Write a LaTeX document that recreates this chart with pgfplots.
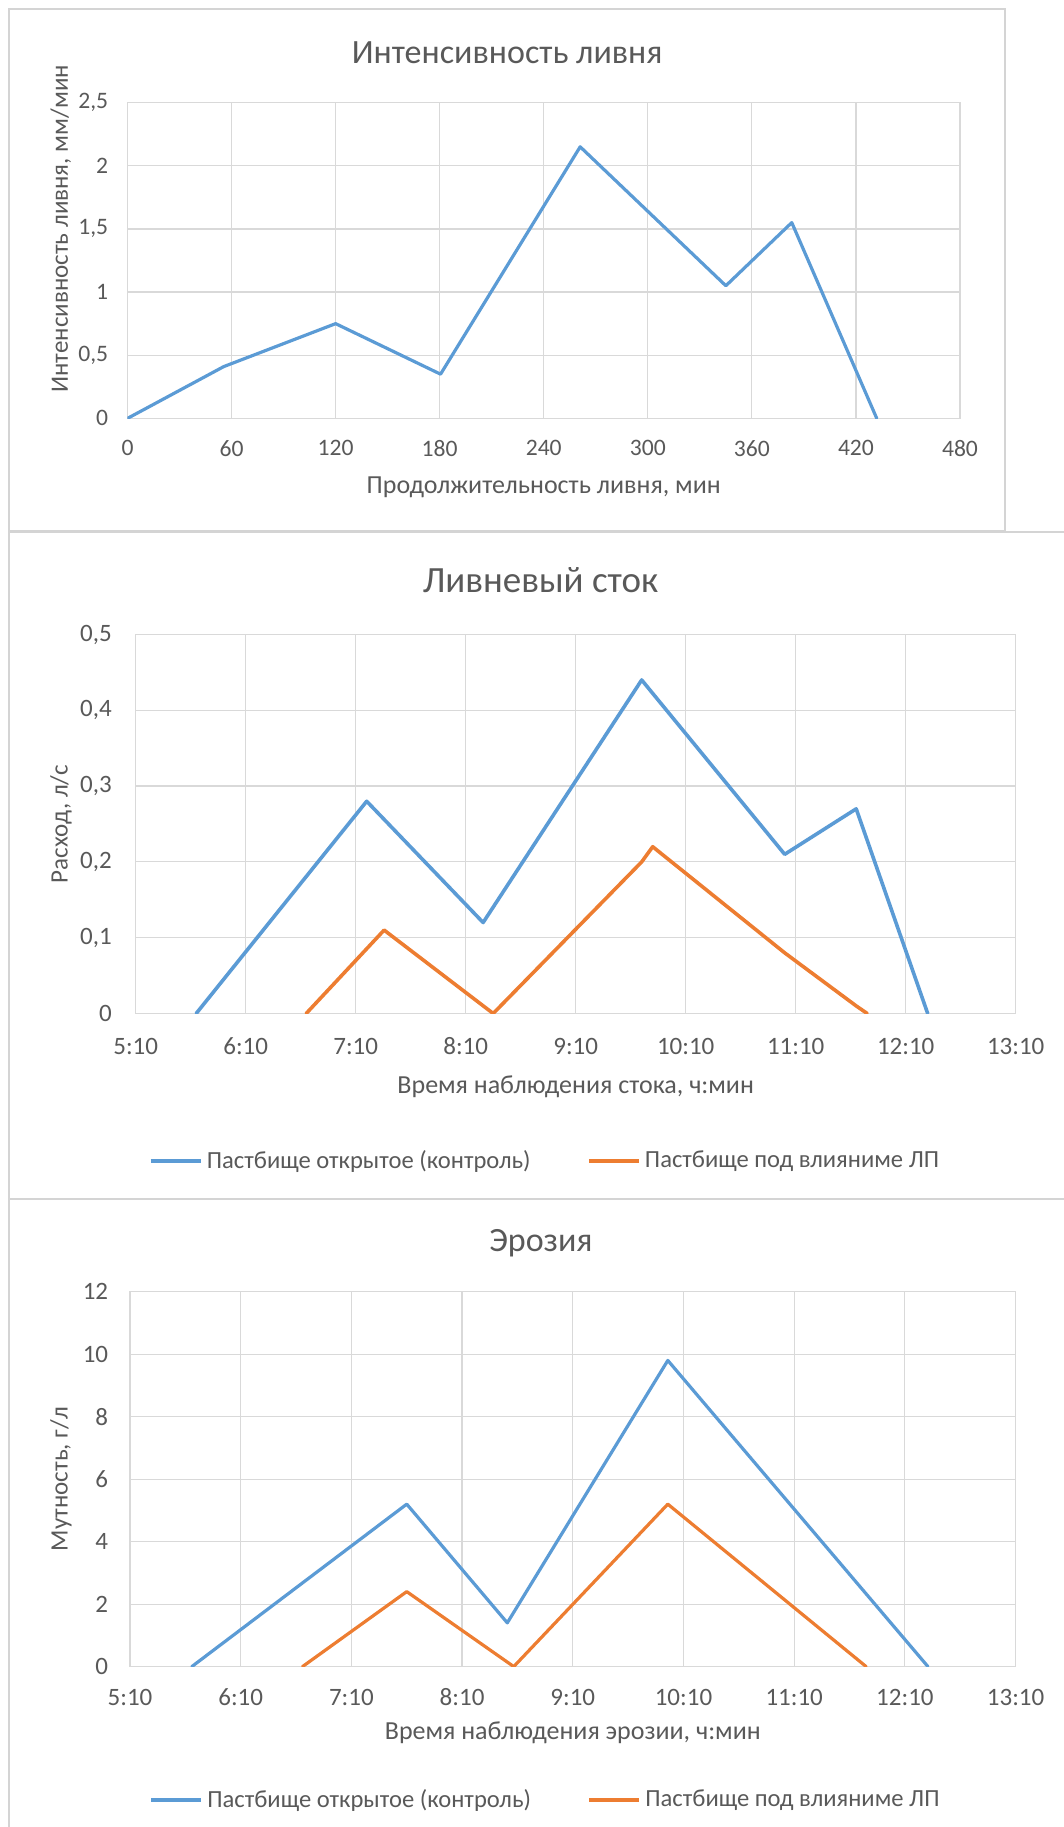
\documentclass[border=0pt]{standalone}
\usepackage{pgfplots}
\pgfplotsset{compat=1.18}
\usepackage{fontspec}
\setmainfont{Carlito}
\definecolor{txt}{HTML}{595959}
\definecolor{grd}{HTML}{D9D9D9}
\definecolor{bl}{HTML}{5B9BD5}
\definecolor{orng}{HTML}{ED7D31}
\definecolor{frm}{HTML}{D4D4D4}
\newcommand\PX[2]{({(#1)*0.5pt},{(1827-(#2))*0.5pt})}
\pgfplotsset{
 excel/.style={
  scale only axis, anchor=south west,
  axis line style={draw=grd, line width=0.6pt},
  grid=major, major grid style={draw=grd, line width=0.6pt},
  major tick length=0pt,
  tick label style={text=txt, font=\fontsize{12.5}{14}\selectfont, inner sep=0pt},
  yticklabel style={anchor=east},
  xticklabel style={anchor=center},
  /pgf/number format/assume math mode=true,
  /pgf/number format/use comma,
  title style={text=txt, anchor=center, yshift=-6pt},
  xlabel style={text=txt, anchor=center, font=\fontsize{13}{15}\selectfont},
  ylabel style={text=txt, anchor=center, font=\fontsize{12.5}{15}\selectfont},
  legend style={draw=none, fill=none, text=txt, font=\fontsize{12.3}{14}\selectfont, legend columns=2,
    /tikz/every even column/.append style={column sep=26pt}, anchor=center, inner sep=0pt},
  legend image code/.code={\draw[#1, line width=2.2pt, line cap=butt] (0pt,0pt) -- (25pt,0pt);},
  every axis plot/.append style={line join=round, line cap=round},
 }
}
\begin{document}
\begin{tikzpicture}
\useasboundingbox (0,0) rectangle (532pt,913.5pt);
% panel frames
\draw[frm, line width=1pt] \PX{9}{9} rectangle \PX{1005}{531};
\draw[frm, line width=1pt] \PX{9}{532} -- \PX{1064}{532};
\draw[frm, line width=1pt] \PX{9}{532} -- \PX{9}{1827};
\draw[frm, line width=1pt] \PX{9}{1199} -- \PX{1064}{1199};

% Chart 1
\begin{axis}[excel,
  at={(63.75pt,704.3pt)}, width=416.25pt, height=157.9pt,
  xmin=0, xmax=480, ymin=0, ymax=2.5,
  xtick={0,60,...,480}, ytick={0,0.5,...,2.5},
  tick label style={font=\fontsize{11.8}{13}\selectfont},
  yticklabel style={xshift=-9.5pt},
  xticklabel style={yshift=-15pt},
  title={Интенсивность ливня},
  title style={at={(axis description cs:0.456,1.157)}, font=\fontsize{17}{20}\selectfont},
  xlabel={Продолжительность ливня, мин},
  xlabel style={at={(axis description cs:0.5,-0.217)}},
  ylabel={Интенсивность ливня, мм/мин},
  ylabel style={at={(axis description cs:-0.08,0.6)}},
]
\addplot[bl, line width=1.6pt] coordinates {
(0,0) (55.5,0.41) (120,0.75) (180.5,0.35) (261,2.15) (345,1.05) (383,1.55) (432,0)};
\end{axis}

% Chart 2
\begin{axis}[excel,
  at={(67.85pt,406.75pt)}, width=440pt, height=189.5pt,
  xmin=310, xmax=790, ymin=0, ymax=0.5,
  xtick={310,370,...,790},
  xticklabels={5:10,6:10,7:10,8:10,9:10,10:10,11:10,12:10,13:10},
  ytick={0,0.1,...,0.5},
  yticklabel style={xshift=-11.8pt},
  xticklabel style={yshift=-16.25pt},
  title={Ливневый сток},
  title style={at={(axis description cs:0.46,1.144)}, font=\fontsize{18.5}{21}\selectfont},
  xlabel={Время наблюдения стока, ч:мин},
  xlabel style={at={(axis description cs:0.5,-0.194)}},
  ylabel={Расход, л/с},
  ylabel style={at={(axis description cs:-0.085,0.5)}},
  legend style={at={(axis description cs:0.466,-0.389)}},
]
\addplot[bl, line width=1.8pt] coordinates {
(343,0) (436,0.28) (499.5,0.12) (586,0.44) (664,0.21) (703,0.27) (742,0)};
\addlegendentry{Пастбище открытое (контроль)}
\addplot[orng, line width=1.8pt] coordinates {
(403,0) (445.5,0.11) (505,0) (586,0.2) (592,0.22) (664,0.08) (703,0.01) (709,0)};
\addlegendentry{Пастбище под влияниме ЛП}
\end{axis}

% Chart 3
\begin{axis}[excel,
  at={(65pt,80.2pt)}, width=442.8pt, height=187.45pt,
  xmin=310, xmax=790, ymin=0, ymax=12,
  xtick={310,370,...,790},
  xticklabels={5:10,6:10,7:10,8:10,9:10,10:10,11:10,12:10,13:10},
  ytick={0,2,...,12},
  yticklabel style={xshift=-10.75pt},
  xticklabel style={yshift=-15.2pt},
  title={Эрозия},
  title style={at={(axis description cs:0.464,1.13)}, font=\fontsize{17}{20}\selectfont},
  xlabel={Время наблюдения эрозии, ч:мин},
  xlabel style={at={(axis description cs:0.5,-0.177)}},
  ylabel={Мутность, г/л},
  ylabel style={at={(axis description cs:-0.078,0.5)}},
  legend style={at={(axis description cs:0.47,-0.356)}},
]
\addplot[bl, line width=1.6pt] coordinates {
(343.5,0) (460,5.2) (514.5,1.4) (601.5,9.8) (742.5,0)};
\addlegendentry{Пастбище открытое (контроль)}
\addplot[orng, line width=1.6pt] coordinates {
(403.5,0) (460,2.4) (518,0) (601.5,5.2) (709,0)};
\addlegendentry{Пастбище под влияниме ЛП}
\end{axis}
\end{tikzpicture}
\end{document}
